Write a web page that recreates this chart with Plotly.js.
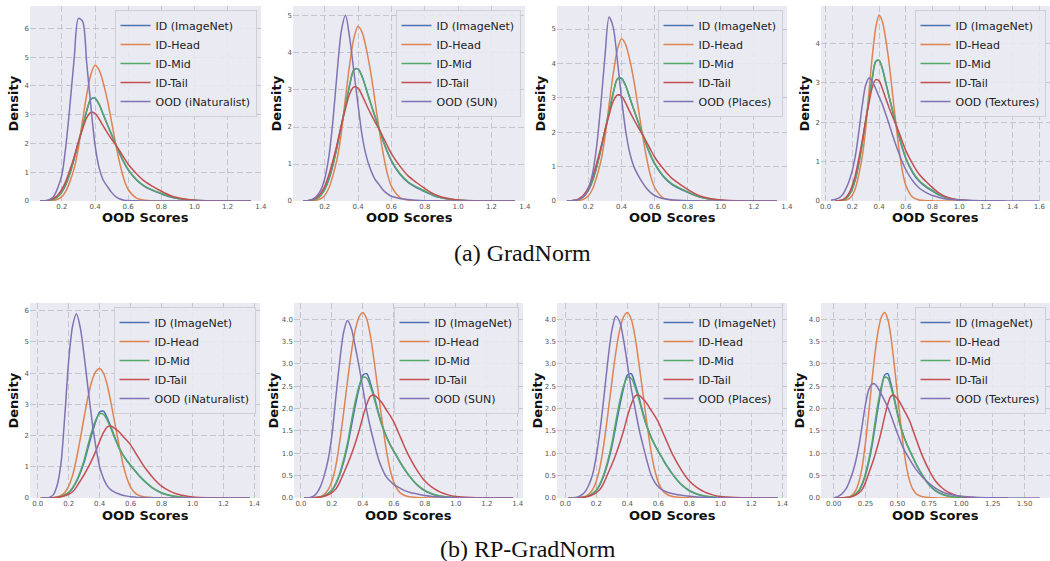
<!DOCTYPE html>
<html><head><meta charset="utf-8">
<script src="https://cdn.plot.ly/plotly-3.0.1.min.js"></script>
<style>html,body{margin:0;padding:0;background:#fff}#chart{width:1050px;height:561px}</style>
</head><body><div id="chart"></div>
<script>
// ---------- data ----------
const idNames = ['ID (ImageNet)', 'ID-Head', 'ID-Mid', 'ID-Tail'];
const oodNames = ['OOD (iNaturalist)', 'OOD (SUN)', 'OOD (Places)', 'OOD (Textures)'];
const rowCaptions = ['(a) GradNorm', '(b) RP-GradNorm'];

// Row (a) GradNorm
const xTop = [0.07, 0.1, 0.125, 0.15, 0.175, 0.2, 0.225, 0.25, 0.275, 0.3, 0.325, 0.35, 0.375, 0.4, 0.425, 0.45, 0.475, 0.5, 0.525, 0.55, 0.575, 0.6, 0.65, 0.7, 0.75, 0.8, 0.85, 0.9, 0.95, 1.0, 1.1, 1.2, 1.34];
const imagenetTop = [0, 0.005, 0.02, 0.06, 0.15, 0.31, 0.58, 0.98, 1.48, 2.03, 2.58, 3.13, 3.54, 3.57, 3.36, 3.01, 2.65, 2.3, 1.96, 1.63, 1.33, 1.08, 0.73, 0.5, 0.36, 0.25, 0.15, 0.085, 0.045, 0.022, 0.005, 0.001, 0];
const headTop = [0, 0, 0.005, 0.02, 0.06, 0.15, 0.35, 0.7, 1.15, 1.85, 2.8, 3.7, 4.4, 4.72, 4.55, 4.1, 3.5, 2.75, 1.98, 1.3, 0.75, 0.4, 0.1, 0.025, 0.008, 0.003, 0.001, 0, 0, 0, 0, 0, 0];
const midTop = [0, 0.005, 0.02, 0.06, 0.15, 0.32, 0.6, 1.0, 1.5, 2.05, 2.6, 3.15, 3.55, 3.57, 3.35, 3.0, 2.65, 2.32, 1.98, 1.65, 1.35, 1.1, 0.75, 0.52, 0.38, 0.27, 0.16, 0.09, 0.05, 0.025, 0.005, 0.001, 0];
const tailTop = [0, 0.01, 0.03, 0.09, 0.2, 0.4, 0.7, 1.1, 1.55, 2.05, 2.5, 2.9, 3.08, 3.05, 2.85, 2.6, 2.37, 2.15, 1.95, 1.73, 1.5, 1.28, 0.95, 0.68, 0.5, 0.34, 0.2, 0.11, 0.06, 0.03, 0.007, 0.002, 0];
const iNatTop = [0, 0.01, 0.05, 0.15, 0.45, 0.9, 1.95, 3.4, 5.0, 6.35, 6.25, 4.8, 3.3, 1.95, 1.15, 0.72, 0.5, 0.3, 0.15, 0.07, 0.03, 0.015, 0.005, 0.002, 0, 0, 0, 0, 0, 0, 0, 0, 0];
const sunTop = [0, 0.01, 0.04, 0.12, 0.28, 0.6, 1.2, 2.2, 3.5, 4.6, 5.02, 4.4, 3.5, 2.6, 1.75, 1.2, 0.85, 0.6, 0.45, 0.3, 0.2, 0.13, 0.07, 0.04, 0.02, 0.01, 0.005, 0.002, 0, 0, 0, 0, 0];
const placesTop = [0, 0.005, 0.02, 0.06, 0.15, 0.35, 0.8, 1.6, 2.8, 4.2, 5.35, 5.05, 4.1, 3.0, 2.05, 1.4, 1.0, 0.75, 0.55, 0.38, 0.25, 0.16, 0.07, 0.035, 0.02, 0.01, 0.005, 0, 0, 0, 0, 0, 0];
const xTexTop = [0.04, 0.07, 0.1, 0.125, 0.15, 0.175, 0.2, 0.225, 0.25, 0.275, 0.3, 0.325, 0.35, 0.375, 0.4, 0.425, 0.45, 0.475, 0.5, 0.525, 0.55, 0.575, 0.6, 0.65, 0.7, 0.75, 0.8, 0.85, 0.9, 0.95, 1.0, 1.1, 1.2, 1.34, 1.45, 1.6];
const texturesTop = [0.02, 0.04, 0.08, 0.15, 0.3, 0.5, 0.78, 1.2, 1.8, 2.45, 2.95, 3.12, 3.02, 2.85, 2.65, 2.45, 2.2, 1.95, 1.68, 1.43, 1.2, 0.98, 0.8, 0.52, 0.33, 0.22, 0.14, 0.09, 0.05, 0.035, 0.025, 0.012, 0.006, 0.003, 0.001, 0];

// Row (b) RP-GradNorm
const xBot = [0.02, 0.05, 0.075, 0.1, 0.125, 0.15, 0.175, 0.2, 0.225, 0.25, 0.275, 0.3, 0.325, 0.35, 0.375, 0.4, 0.425, 0.45, 0.475, 0.5, 0.525, 0.55, 0.575, 0.6, 0.625, 0.65, 0.675, 0.7, 0.75, 0.8, 0.85, 0.9, 0.95, 1.0, 1.1, 1.2, 1.37];
const imagenetBot = [0, 0.002, 0.005, 0.01, 0.025, 0.05, 0.1, 0.17, 0.31, 0.52, 0.8, 1.15, 1.6, 2.05, 2.45, 2.75, 2.78, 2.55, 2.25, 1.92, 1.62, 1.39, 1.2, 1.04, 0.89, 0.74, 0.61, 0.49, 0.29, 0.16, 0.085, 0.042, 0.019, 0.009, 0.003, 0.001, 0];
const headBot = [0, 0, 0.003, 0.01, 0.03, 0.08, 0.18, 0.38, 0.72, 1.25, 1.9, 2.6, 3.25, 3.75, 4.05, 4.15, 4.0, 3.6, 3.0, 2.35, 1.7, 1.1, 0.65, 0.35, 0.18, 0.09, 0.05, 0.03, 0.01, 0.004, 0.001, 0, 0, 0, 0, 0, 0];
const midBot = [0, 0.002, 0.005, 0.01, 0.025, 0.05, 0.1, 0.18, 0.33, 0.55, 0.85, 1.22, 1.7, 2.15, 2.5, 2.7, 2.68, 2.48, 2.2, 1.88, 1.6, 1.38, 1.2, 1.05, 0.9, 0.75, 0.62, 0.5, 0.3, 0.17, 0.09, 0.045, 0.02, 0.01, 0.003, 0.001, 0];
const tailBot = [0, 0.002, 0.005, 0.01, 0.02, 0.04, 0.07, 0.12, 0.2, 0.35, 0.55, 0.75, 0.97, 1.22, 1.5, 1.82, 2.1, 2.28, 2.3, 2.22, 2.12, 1.98, 1.85, 1.7, 1.5, 1.3, 1.1, 0.92, 0.62, 0.38, 0.23, 0.13, 0.07, 0.035, 0.01, 0.003, 0];
const iNatBot = [0, 0, 0.02, 0.1, 0.4, 1.1, 2.65, 4.4, 5.5, 5.9, 5.45, 4.55, 3.5, 2.5, 1.65, 1.0, 0.62, 0.38, 0.25, 0.18, 0.13, 0.09, 0.06, 0.04, 0.03, 0.02, 0.015, 0.01, 0.005, 0.002, 0, 0, 0, 0, 0, 0, 0];
const sunBot = [0, 0.005, 0.03, 0.1, 0.25, 0.5, 0.85, 1.4, 2.25, 3.05, 3.7, 3.97, 3.8, 3.4, 2.95, 2.45, 1.95, 1.55, 1.2, 0.88, 0.65, 0.48, 0.38, 0.3, 0.25, 0.2, 0.16, 0.13, 0.09, 0.055, 0.035, 0.02, 0.01, 0.005, 0.002, 0, 0];
const placesBot = [0, 0.005, 0.02, 0.06, 0.13, 0.28, 0.52, 0.95, 1.55, 2.3, 3.1, 3.75, 4.07, 3.95, 3.55, 3.0, 2.45, 2.0, 1.55, 1.19, 0.85, 0.55, 0.36, 0.25, 0.18, 0.14, 0.11, 0.09, 0.06, 0.04, 0.025, 0.015, 0.008, 0.004, 0.001, 0, 0];
const xTexBot = [0.0, 0.03, 0.06, 0.1, 0.125, 0.15, 0.175, 0.2, 0.225, 0.25, 0.275, 0.3, 0.325, 0.35, 0.375, 0.4, 0.425, 0.45, 0.475, 0.5, 0.55, 0.6, 0.65, 0.7, 0.75, 0.8, 0.85, 0.9, 0.95, 1.0, 1.1, 1.2, 1.3, 1.45, 1.62];
const texturesBot = [0, 0.03, 0.08, 0.22, 0.38, 0.58, 0.85, 1.2, 1.65, 2.1, 2.42, 2.55, 2.55, 2.45, 2.32, 2.18, 2.03, 1.85, 1.65, 1.45, 1.1, 0.85, 0.63, 0.46, 0.33, 0.22, 0.14, 0.09, 0.06, 0.04, 0.018, 0.008, 0.004, 0.001, 0];

// ---------- styling / layout ----------
const colors = ['#4C72B0', '#DD8452', '#55A868', '#C44E52', '#8172B3'];
const W = 1050, H = 561;
const rows = [
  {x: xTop, ids: [imagenetTop, headTop, midTop, tailTop],
   ood: [[xTop, iNatTop], [xTop, sunTop], [xTop, placesTop], [xTexTop, texturesTop]]},
  {x: xBot, ids: [imagenetBot, headBot, midBot, tailBot],
   ood: [[xBot, iNatBot], [xBot, sunBot], [xBot, placesBot], [xTexBot, texturesBot]]}
];
const panels = [
  {xd: [30, 261], yd: [6, 201], xr: [0.008, 1.401], yr: [0, 6.78], dx: 0.2, fx: '.1f', dy: 1, fy: 'd', tOff: 17},
  {xd: [293, 525], yd: [6, 201], xr: [0.01, 1.401], yr: [0, 5.27], dx: 0.2, fx: '.1f', dy: 1, fy: 'd', tOff: 17},
  {xd: [557, 787], yd: [6, 201], xr: [0.01, 1.401], yr: [0, 5.67], dx: 0.2, fx: '.1f', dy: 1, fy: 'd', tOff: 17},
  {xd: [821, 1050], yd: [6, 201], xr: [-0.035, 1.68], yr: [0, 4.95], dx: 0.2, fx: '.1f', dy: 1, fy: 'd', tOff: 17},
  {xd: [30, 260], yd: [303, 498], xr: [-0.05, 1.436], yr: [0, 6.245], dx: 0.2, fx: '.1f', dy: 1, fy: 'd', tOff: 17},
  {xd: [294, 523], yd: [303, 498], xr: [-0.045, 1.434], yr: [0, 4.364], dx: 0.2, fx: '.1f', dy: 0.5, fy: '.1f', tOff: 21},
  {xd: [557, 787], yd: [303, 498], xr: [-0.054, 1.43], yr: [0, 4.364], dx: 0.2, fx: '.1f', dy: 0.5, fy: '.1f', tOff: 20},
  {xd: [821, 1050], yd: [303, 498], xr: [-0.10, 1.70], yr: [0, 4.364], dx: 0.25, fx: '.2f', dy: 0.5, fy: '.1f', tOff: 22}
];

const traces = [];
const layout = {
  width: W, height: H, margin: {l: 0, r: 0, t: 0, b: 0},
  paper_bgcolor: '#ffffff', plot_bgcolor: '#EAEAF2',
  showlegend: true, annotations: [],
  font: {family: 'DejaVu Sans', color: '#222'}
};
const gridColor = '#c5c5cc';
const tickFont = {family: 'DejaVu Sans', size: 7, color: '#555'};
const titleFont = {family: 'DejaVu Sans', size: 13, color: '#111', weight: 'bold'};

panels.forEach((p, i) => {
  const n = i + 1;
  const r = rows[Math.floor(i / 4)];
  const k = i % 4;
  const xa = 'x' + (n === 1 ? '' : n), ya = 'y' + (n === 1 ? '' : n);
  const lg = 'legend' + (n === 1 ? '' : n);
  const names = idNames.concat([oodNames[k]]);
  const series = r.ids.map(v => [r.x, v]).concat([r.ood[k]]);
  series.forEach((s, j) => {
    traces.push({
      type: 'scatter', mode: 'lines', x: s[0], y: s[1], name: names[j],
      xaxis: xa, yaxis: ya, legend: lg, hoverinfo: 'skip',
      line: {color: colors[j], width: 1.5, shape: 'spline', smoothing: 0.8}
    });
  });
  const axBase = {showline: false, zeroline: false, ticks: '', showgrid: true,
                  gridcolor: gridColor, gridwidth: 1, griddash: '6px,3px',
                  tickfont: tickFont, fixedrange: true};
  layout['xaxis' + (n === 1 ? '' : n)] = Object.assign({}, axBase, {
    domain: [p.xd[0] / W, p.xd[1] / W], range: p.xr, anchor: ya,
    tick0: 0, dtick: p.dx, tickformat: p.fx
  });
  layout['yaxis' + (n === 1 ? '' : n)] = Object.assign({}, axBase, {
    domain: [(H - p.yd[1]) / H, (H - p.yd[0]) / H], range: p.yr, anchor: xa,
    tick0: 0, dtick: p.dy, tickformat: p.fy
  });
  layout[lg] = {
    x: (p.xd[1] - 4.5) / W, y: (H - p.yd[0] - 4) / H, xanchor: 'right', yanchor: 'top',
    bgcolor: 'rgba(234,234,242,0.85)', bordercolor: '#cfcfd6', borderwidth: 1,
    font: {family: 'DejaVu Sans', size: 11, color: '#222'}, tracegroupgap: 0
  };
  layout.annotations.push({
    text: 'OOD Scores', xref: 'paper', yref: 'paper', showarrow: false,
    x: (p.xd[0] + p.xd[1]) / 2 / W, y: (H - p.yd[1] - 17) / H,
    xanchor: 'center', yanchor: 'middle', font: titleFont
  });
  layout.annotations.push({
    text: 'Density', xref: 'paper', yref: 'paper', showarrow: false, textangle: -90,
    x: (p.xd[0] - p.tOff) / W, y: (H - (p.yd[0] + p.yd[1]) / 2) / H,
    xanchor: 'center', yanchor: 'middle', font: titleFont
  });
});

// row captions
const capFont = {family: 'Liberation Serif', size: 24, color: '#111'};
layout.annotations.push({text: rowCaptions[0], xref: 'paper', yref: 'paper', showarrow: false,
  x: 522 / W, y: (H - 253) / H, xanchor: 'center', yanchor: 'middle', font: capFont});
layout.annotations.push({text: rowCaptions[1], xref: 'paper', yref: 'paper', showarrow: false,
  x: 528 / W, y: (H - 549) / H, xanchor: 'center', yanchor: 'middle', font: capFont});

Plotly.newPlot('chart', traces, layout, {staticPlot: true, displayModeBar: false});
</script>
</body></html>
